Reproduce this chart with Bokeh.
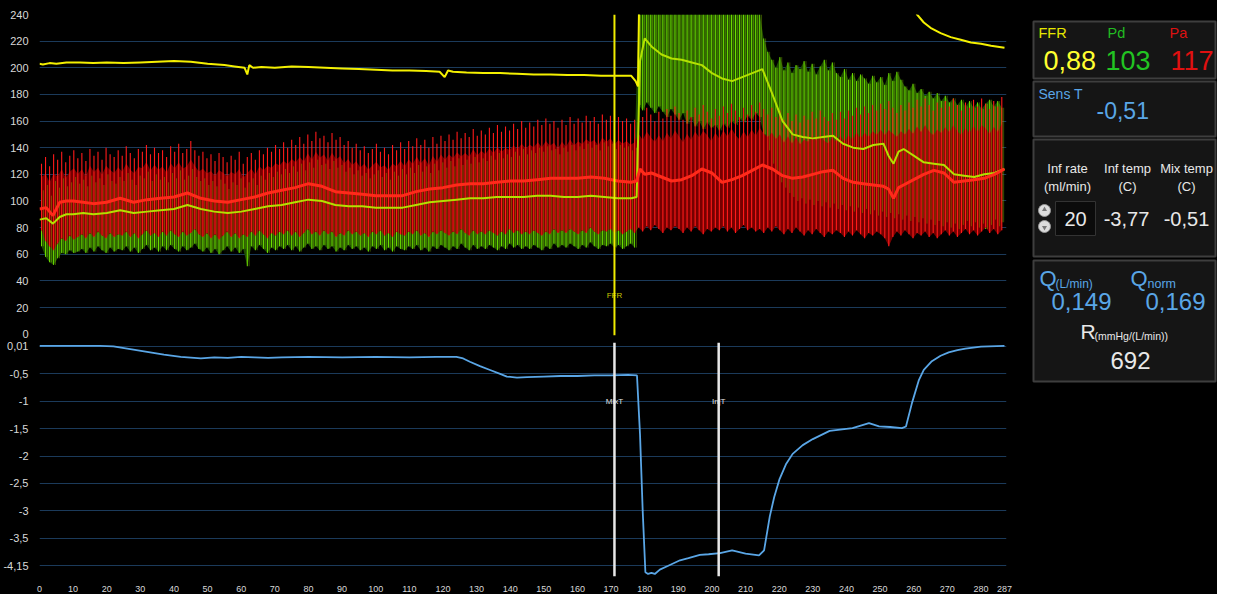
import numpy as np
from bokeh.plotting import figure
from bokeh.models import Range1d, FixedTicker, CustomJSTickFormatter, Span
from bokeh.layouts import row, column
from bokeh.embed import file_html
from bokeh.resources import INLINE
from bokeh.core.properties import value

FONT = "Liberation Sans"

# ---------------- data ----------------
# beat sampling grid (s)
BEAT_T = np.round(np.arange(0.6, 287.0, 1.2), 1)

PA_MAX = [
    128, 133, 126, 135, 131, 137, 129, 134, 138, 132,
    136, 130, 139, 134, 137, 131, 140, 135, 133, 138,
    134, 141, 136, 132, 139, 137, 142, 135, 140, 136,
    138, 133, 141, 137, 143, 136, 139, 145, 138, 134,
    137, 132, 135, 130, 136, 133, 129, 134, 131, 137,
    128, 133, 136, 131, 138, 135, 140, 137, 142, 139,
    144, 140, 146, 142, 148, 143, 150, 145, 152, 147,
    149, 144, 151, 146, 148, 142, 145, 140, 143, 138,
    141, 136, 139, 143, 137, 140, 135, 142, 138, 144,
    139, 145, 141, 147, 142, 146, 140, 148, 143, 149,
    145, 150, 146, 152, 147, 151, 148, 154, 149, 153,
    150, 155, 151, 157, 152, 156, 153, 158, 154, 160,
    155, 159, 156, 161, 157, 162, 158, 160, 155, 161,
    157, 163, 158, 162, 159, 164, 160, 163, 158, 165,
    161, 164, 159, 163, 160, 162, 158, 161,
    168, 163, 170, 165, 160, 167, 162, 169, 164, 171,
    166, 161, 168, 163, 170, 165, 172, 167, 162, 169,
    164, 171, 166, 173, 168, 163, 170, 165, 172, 167,
    174, 169, 165, 170, 163, 168, 161, 166, 160, 165,
    159, 164, 161, 167, 162, 168, 163, 160, 166, 161,
    167, 162, 168, 164, 170, 165, 171, 166, 172, 168,
    173, 169, 175, 170, 166, 172, 168, 174, 170, 176,
    171, 177, 172, 168, 174, 170, 175, 171, 177, 172,
    168, 174, 170, 176, 171, 177, 173, 169, 175, 171, 178,
]
PA_MIN = [
    78, 70, 66, 63, 68, 72, 70, 74, 71, 73,
    75, 72, 76, 73, 77, 74, 72, 76, 73, 75,
    74, 77, 73, 76, 72, 75, 78, 74, 76, 73,
    77, 74, 78, 75, 73, 77, 74, 76, 79, 75,
    73, 76, 72, 75, 71, 74, 77, 73, 76, 72,
    75, 73, 77, 74, 78, 75, 72, 76, 74, 77,
    75, 78, 74, 77, 73, 76, 79, 75, 77, 74,
    78, 75, 77, 73, 76, 74, 78, 75, 77, 74,
    76, 73, 77, 75, 78, 74, 76, 73, 77, 75,
    74, 77, 75, 78, 74, 76, 73, 77, 75, 78,
    76, 74, 77, 75, 79, 76, 74, 78, 75, 77,
    75, 78, 76, 74, 77, 75, 79, 76, 78, 75,
    77, 75, 78, 76, 74, 77, 75, 79, 76, 78,
    76, 79, 77, 75, 78, 76, 80, 77, 75, 78,
    77, 79, 76, 78, 75, 77, 79, 76,
    80, 77, 81, 78, 82, 79, 76, 80, 78, 81,
    79, 76, 80, 77, 81, 78, 75, 79, 77, 80,
    78, 81, 77, 80, 76, 79, 82, 78, 80, 77,
    79, 76, 80, 77, 81, 78, 75, 79, 76, 80,
    77, 74, 78, 75, 79, 76, 73, 77, 75, 78,
    76, 73, 77, 74, 78, 75, 72, 76, 74, 77,
    75, 72, 66, 73, 77, 74, 78, 75, 72, 76,
    74, 77, 73, 76, 72, 75, 78, 74, 77, 73,
    76, 79, 75, 78, 74, 77, 80, 76, 79, 75, 78,
]
PD_MAX = [
    108, 112, 104, 115, 110, 117, 111, 114, 118, 113,
    116, 111, 119, 114, 117, 112, 120, 115, 113, 118,
    115, 121, 116, 112, 119, 117, 122, 115, 120, 116,
    118, 114, 121, 117, 123, 116, 119, 124, 118, 115,
    117, 112, 115, 111, 116, 113, 109, 114, 112, 117,
    110, 114, 117, 112, 119, 116, 121, 118, 122, 120,
    124, 121, 126, 122, 128, 123, 129, 125, 131, 127,
    128, 124, 130, 125, 127, 122, 125, 120, 123, 119,
    121, 117, 120, 123, 118, 121, 116, 122, 119, 124,
    120, 125, 121, 127, 122, 126, 121, 128, 123, 129,
    125, 130, 126, 132, 127, 131, 128, 133, 129, 132,
    130, 134, 131, 136, 132, 135, 133, 137, 134, 139,
    135, 138, 136, 140, 137, 141, 138, 139, 135, 140,
    137, 142, 138, 141, 139, 143, 140, 142, 138, 144,
    141, 143, 139, 142, 140, 141, 138, 140,
    240, 240, 240, 240, 240, 240, 240, 240, 240, 240,
    240, 240, 240, 240, 240, 240, 240, 240, 240, 240,
    240, 240, 240, 240, 240, 240, 240, 240, 240, 240,
    240, 222, 212, 206, 200, 208, 198, 204, 196, 202,
    199, 205, 197, 203, 195, 201, 206, 198, 204, 196,
    193, 199, 191, 196, 190, 195, 192, 188, 194, 189,
    193, 187, 196, 190, 197, 191, 186, 183, 188, 181,
    184, 179, 182, 177, 181, 175, 179, 174, 177, 172,
    176, 171, 175, 170, 174, 169, 173, 176, 171, 175, 170,
]
PD_MIN = [
    66, 58, 54, 52, 57, 61, 60, 63, 61, 62,
    64, 61, 65, 62, 66, 63, 61, 65, 62, 64,
    63, 66, 62, 65, 61, 64, 67, 63, 65, 62,
    66, 63, 67, 64, 62, 66, 63, 65, 68, 64,
    62, 65, 61, 64, 60, 63, 66, 62, 65, 61,
    64, 51, 66, 63, 67, 64, 61, 65, 63, 66,
    64, 67, 63, 66, 62, 65, 68, 64, 66, 63,
    67, 64, 66, 62, 65, 63, 67, 64, 66, 63,
    65, 62, 66, 64, 67, 63, 65, 62, 66, 64,
    63, 66, 64, 67, 63, 65, 62, 66, 64, 67,
    65, 63, 66, 64, 68, 65, 63, 67, 64, 66,
    64, 67, 65, 63, 66, 64, 68, 65, 67, 64,
    66, 64, 67, 65, 63, 66, 64, 68, 65, 67,
    65, 68, 66, 64, 67, 65, 69, 66, 64, 67,
    66, 68, 65, 67, 64, 66, 68, 65,
    172, 168, 174, 170, 166, 171, 167, 163, 169, 165,
    161, 166, 158, 163, 156, 160, 154, 159, 155, 157,
    153, 158, 155, 160, 157, 162, 159, 164, 161, 166,
    163, 150, 138, 128, 120, 114, 110, 106, 103, 100,
    102, 98, 101, 97, 100, 96, 99, 95, 98, 94,
    97, 93, 96, 92, 95, 91, 94, 90, 93, 89,
    92, 88, 91, 87, 90, 86, 89, 85, 88, 84,
    87, 83, 86, 82, 85, 81, 84, 80, 83, 79,
    82, 85, 81, 84, 80, 83, 79, 82, 86, 81, 84,
]

# mean pressures
MEAN_T = [0, 2, 4, 6, 8, 10, 13, 16, 20, 24, 28, 32, 36, 40, 44, 48, 52, 56, 60, 64,
          68, 72, 76, 80, 84, 88, 92, 96, 100, 104, 108, 112, 116, 120, 124, 128, 132,
          136, 140, 144, 148, 152, 156, 160, 164, 168, 172, 176, 177.6,
          178.6, 180, 182, 185, 188, 191, 194, 197, 200, 203, 206, 209, 212, 215, 218,
          221, 224, 227, 230, 233, 236, 239, 242, 245, 248, 251, 252.5, 254, 255.5, 257,
          260, 263, 266, 269, 272, 275, 278, 281, 284, 287]
PA_MEAN = [94, 95, 89, 99, 100, 100, 99, 98, 99, 102, 99, 101, 102, 103, 106, 102, 100, 99,
           101, 103, 106, 108, 110, 113, 111, 107, 106, 105, 104, 104, 104, 107, 109, 110,
           112, 113, 113, 114, 115, 115, 116, 117, 117, 117, 118, 117, 115, 114, 115,
           124, 120, 121, 118, 115, 116, 119, 124, 121, 114, 116, 119, 123, 127, 124,
           119, 117, 118, 120, 122, 123, 117, 114, 113, 112, 111, 109, 102, 110, 112,
           116, 120, 123, 121, 114, 115, 116, 117, 120, 124]
PD_MEAN = [86, 87, 83, 88, 90, 90, 91, 90, 91, 93, 91, 92, 93, 94, 97, 94, 92, 91,
           92, 94, 96, 97, 99, 101, 100, 97, 96, 96, 95, 95, 95, 97, 99, 100,
           101, 102, 102, 103, 103, 103, 104, 104, 103, 103, 104, 103, 102, 102, 103,
           205, 222, 216, 210, 207, 206, 204, 202, 196, 192, 190, 193, 196, 199, 180,
           160, 150, 148, 147, 148, 149, 143, 140, 139, 142, 143, 134, 128, 137, 139,
           134, 129, 128, 127, 120, 119, 118, 120, 121, 124]

# upper yellow trace
YEL_T = [0, 1, 3, 5, 8, 12, 16, 20, 25, 30, 35, 40, 45, 50, 55, 58, 61, 61.8, 62.4, 63.5,
         66, 70, 75, 80, 85, 90, 95, 100, 105, 110, 115, 119, 120.5, 121.5, 123, 127, 132,
         137, 142, 147, 152, 157, 162, 167, 172, 176, 177.3, 178, 178.6, 179,
         259, 261, 263, 265, 268, 271, 274, 277, 280, 283, 287]
YEL = [203, 202.5, 203.5, 203, 204, 204, 203.5, 204, 203.5, 204, 204.5, 205, 204.5, 203,
       202, 201, 200, 195, 202, 200, 200.5, 200, 201, 200.5, 200, 199.5, 199, 198.5, 198,
       198, 197.5, 197, 193, 198, 197, 196.5, 196, 196, 195.5, 195, 195, 194.5, 194.5, 194,
       194, 194, 190, 186, 300, np.nan,
       252, 240, 234, 230, 226, 223, 221, 219, 218, 216.5, 215]

# sensor temperature
TEMP_T = [0, 5, 10, 15, 18, 22, 27, 32, 37, 42, 48, 52, 56, 60, 64, 68, 72, 80, 90, 100,
          110, 118, 124, 126, 128, 131, 134, 137, 139, 142, 145, 150, 155, 160, 165, 170,
          175, 177.7, 178.6, 179.4, 180.2, 181, 182, 183, 184.5, 187, 190.5, 193, 196.4,
          199, 202.4, 206, 210, 214, 215.5, 217.2, 218.5, 220.1, 222, 224, 227, 230, 235,
          241.8, 246.7, 249.7, 253, 256.5, 257.7, 259.5, 261.5, 263, 265.4, 268, 270.4,
          273, 275.4, 280, 287]
TEMP = [0.01, 0.01, 0.01, 0.01, 0.01, 0.0, -0.05, -0.1, -0.15, -0.19, -0.22, -0.2, -0.21,
        -0.19, -0.2, -0.21, -0.2, -0.19, -0.2, -0.19, -0.2, -0.19, -0.19, -0.22, -0.28,
        -0.36, -0.43, -0.5, -0.55, -0.57, -0.56, -0.55, -0.54, -0.54, -0.53, -0.53, -0.52,
        -0.53, -1.6, -3.0, -4.12, -4.15, -4.13, -4.15, -4.07, -4.0, -3.9, -3.86, -3.8,
        -3.79, -3.77, -3.72, -3.78, -3.81, -3.72, -3.1, -2.75, -2.42, -2.15, -1.96, -1.8,
        -1.69, -1.54, -1.49, -1.4, -1.46, -1.47, -1.49, -1.46, -1.03, -0.62, -0.43, -0.27,
        -0.17, -0.11, -0.07, -0.04, -0.005, 0.01]

# event markers
MARK_T = [171.0, 171.0, 202.0]
MARK_LABEL = ["FFR", "MixT", "InjT"]

# axis ticks
X_TICKS = list(range(0, 281, 10)) + [287]
P_TICKS = list(range(0, 241, 20))
P_GRID = list(range(20, 221, 20))
T_TICKS = [0, -0.5, -1, -1.5, -2, -2.5, -3, -3.5, -4]
T_LABELS = ["0,01", "-0,5", "-1", "-1,5", "-2", "-2,5", "-3", "-3,5", "-4,15"]

# panel readings
FFR_VAL, PD_VAL, PA_VAL = "0,88", "103", "117"
SENS_T = "-0,51"
INF_RATE, INF_TEMP, MIX_TEMP = "20", "-3,77", "-0,51"
Q_VAL, QNORM_VAL, R_VAL = "0,149", "0,169", "692"

# ---------------- styling helpers ----------------
BG = "black"
GRID = "#1b3a5a"
LBL = "#d8d8d8"
BLUE = "#5aa6e6"

xr = Range1d(0, 287.6)


def base_fig(h, y_range, top, bottom, xaxis):
    p = figure(width=1028, height=h, x_range=xr, y_range=y_range,
               output_backend="svg", toolbar_location=None,
               x_axis_location="below" if xaxis else None,
               background_fill_color=BG, border_fill_color=BG,
               outline_line_color=None,
               min_border_left=34, min_border_right=22,
               min_border_top=top, min_border_bottom=bottom)
    p.xgrid.visible = False
    p.ygrid.grid_line_color = GRID
    p.ygrid.grid_line_width = 1
    for ax in p.axis:
        ax.axis_line_color = None
        ax.major_tick_line_color = None
        ax.minor_tick_line_color = None
        ax.major_label_text_color = LBL
        ax.major_label_text_font = FONT
    return p


# ---- pressure plot ----
p1 = base_fig(340, Range1d(-1, 240), 14, 5, False)
p1.yaxis.ticker = FixedTicker(ticks=P_TICKS)
p1.yaxis.major_label_text_font_size = "11px"
p1.yaxis.major_label_standoff = 5
p1.ygrid.ticker = FixedTicker(ticks=P_GRID)

bt = BEAT_T
pa_lo = np.array(PA_MIN, float)
pa_hi = np.array(PA_MAX, float)
pa_band = pa_lo + 0.8 * (pa_hi - pa_lo)   # dense part of the pulsatile trace

p1.varea(x=bt, y1=PD_MIN, y2=PD_MAX, fill_color="#1f4d00")
p1.segment(x0=bt, y0=PD_MIN, x1=bt, y1=PD_MAX, line_color="#6ee000", line_width=1)
p1.varea(x=bt, y1=pa_lo, y2=pa_band, fill_color="#760000")
p1.segment(x0=bt, y0=PA_MIN, x1=bt, y1=PA_MAX, line_color="#ff1a1a", line_width=1.1)
p1.segment(x0=bt + 0.55, y0=PD_MIN, x1=bt + 0.55, y1=PD_MAX, line_color="#9ae000",
           line_width=1, line_alpha=0.35)
p1.line(MEAN_T, PD_MEAN, line_color="#b4e000", line_width=2)
p1.line(MEAN_T, PA_MEAN, line_color="#ff2a1a", line_width=3)
p1.line(YEL_T, YEL, line_color="#f4f000", line_width=2)

p1.add_layout(Span(location=MARK_T[0], dimension="height", line_color="#f0ec00", line_width=2))
p1.text(x=[MARK_T[0]], y=[29], text=[MARK_LABEL[0]], text_color="#c8c400",
        text_font_size="8px", text_align="center", text_baseline="middle",
        text_font=value(FONT))

# ---- temperature plot ----
p2 = base_fig(254, Range1d(-4.196, 0.071), 2, 13, True)
p2.yaxis.ticker = FixedTicker(ticks=T_TICKS)
p2.yaxis.formatter = CustomJSTickFormatter(
    args=dict(tv=T_TICKS, tl=T_LABELS),
    code="const i = tv.findIndex(v => Math.abs(v - tick) < 1e-6); return i < 0 ? '' : tl[i];")
p2.yaxis.major_label_text_font_size = "11px"
p2.yaxis.major_label_standoff = 5
p2.ygrid.ticker = FixedTicker(ticks=T_TICKS)
p2.xaxis.ticker = FixedTicker(ticks=X_TICKS)
p2.xaxis.major_label_text_font_size = "9px"
p2.xaxis.major_label_standoff = 3

p2.line(TEMP_T, TEMP, line_color=BLUE, line_width=1.8)
for t, lab in zip(MARK_T[1:], MARK_LABEL[1:]):
    p2.text(x=[t], y=[-1.01], text=[lab], text_color="#e0e0e0", text_font_size="8px",
            text_align="center", text_baseline="middle", text_font=value(FONT))
    p2.add_layout(Span(location=t, dimension="height", line_color="#e8e8e8",
                       line_width=2.5))

# ---- readout panel (coordinates in screen pixels) ----
pn = figure(width=189, height=594, x_range=Range1d(1030, 1219), y_range=Range1d(596, 2),
            output_backend="svg", toolbar_location=None, x_axis_location=None,
            y_axis_location=None, background_fill_color=BG, border_fill_color=BG,
            outline_line_color=None, min_border=0)
pn.grid.visible = False

pn.quad(left=[1035, 1035, 1035, 1035], right=[1217, 1217, 1217, 1217],
        top=[23, 83, 141, 262], bottom=[80, 138, 258, 383],
        fill_color="#151515", line_color="#3e3e3e", line_width=2)
pn.quad(left=[1057], right=[1097], top=[203], bottom=[237],
        fill_color="#0b0b0b", line_color="#333333", line_width=1)


def txt(x, y, s, color, size, align="left"):
    pn.text(x=[x], y=[y], text=[s], text_color=color, text_font_size=size,
            text_align=align, text_baseline="middle", text_font=value(FONT))


txt(1040, 34, "FFR", "#e6e600", "14.5px")
txt(1109, 34, "Pd", "#22bb22", "14.5px")
txt(1171, 34, "Pa", "#dd1111", "14.5px")
txt(1045, 62, FFR_VAL, "#ffff30", "27px")
txt(1107, 62, PD_VAL, "#22c422", "27px")
txt(1172, 62, PA_VAL, "#e01010", "27px")

txt(1040, 95, "Sens T", BLUE, "14px")
txt(1098, 112, SENS_T, BLUE, "23px")

WH = "#e8e8e8"
txt(1069, 170, "Inf rate", WH, "13px", "center")
txt(1069, 188, "(ml/min)", WH, "13px", "center")
txt(1129, 170, "Inf temp", WH, "13px", "center")
txt(1129, 188, "(C)", WH, "13px", "center")
txt(1188, 170, "Mix temp", WH, "13px", "center")
txt(1188, 188, "(C)", WH, "13px", "center")
txt(1077, 220, INF_RATE, WH, "20px", "center")
txt(1128, 220, INF_TEMP, WH, "20px", "center")
txt(1188, 220, MIX_TEMP, WH, "20px", "center")
pn.scatter(x=[1046, 1046], y=[212, 228], marker="circle", size=12,
           fill_color="#dcdcdc", line_color="#999999")
pn.scatter(x=[1046], y=[211], marker="triangle", size=5, fill_color="#777777",
           line_color=None)
pn.scatter(x=[1046], y=[229], marker="inverted_triangle", size=5, fill_color="#777777",
           line_color=None)

txt(1041, 280, "Q", BLUE, "22px")
txt(1057, 285, "(L/min)", BLUE, "12px")
txt(1132, 280, "Q", BLUE, "22px")
txt(1149, 285, "norm", BLUE, "12.5px")
txt(1053, 303, Q_VAL, BLUE, "24px")
txt(1147, 303, QNORM_VAL, BLUE, "24px")
txt(1082, 333, "R", WH, "21px")
txt(1096, 337, "(mmHg/(L/min))", WH, "10.5px")
txt(1112, 362, R_VAL, WH, "24px")

left = column(p1, p2, styles={"background-color": "black"})
layout = row(left, pn, styles={"background-color": "black"})
open("out.html", "w").write(file_html(layout, INLINE))
